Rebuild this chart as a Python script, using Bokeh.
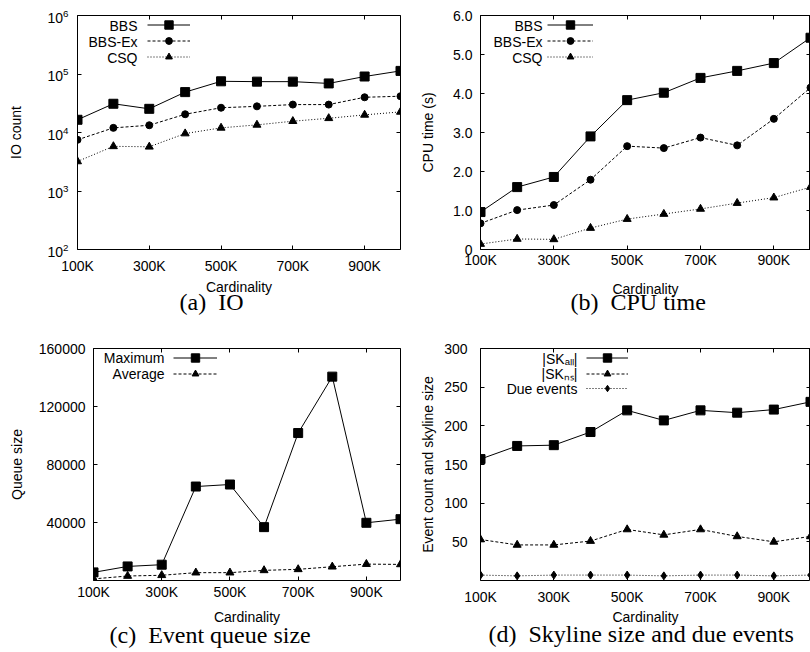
from bokeh.plotting import figure
from bokeh.layouts import column, row
from bokeh.models import (FixedTicker, LinearAxis, LogAxis, Legend, LegendItem,
                          Range1d, BasicTickFormatter, Label)
from bokeh.embed import file_html
from bokeh.resources import INLINE

# ---------------- data ----------------
cardinality = [100000, 200000, 300000, 400000, 500000,
               600000, 700000, 800000, 900000, 1000000]
x_tick_values = [100000, 300000, 500000, 700000, 900000]
x_tick_labels = ["100K", "300K", "500K", "700K", "900K"]

io_bbs = [16500, 31000, 25400, 49000, 75000, 74000, 74000, 69000, 90600, 113000]
io_bbs_ex = [7500, 12000, 13300, 20500, 26500, 28000, 30000, 30000, 40000, 41700]
io_csq = [3200, 5800, 5700, 9600, 12000, 13500, 15600, 17500, 20000, 22500]
io_ticks = [100, 1000, 10000, 100000, 1000000]

cpu_bbs = [0.96, 1.60, 1.86, 2.90, 3.83, 4.02, 4.40, 4.58, 4.78, 5.43]
cpu_bbs_ex = [0.67, 1.01, 1.14, 1.79, 2.65, 2.60, 2.87, 2.67, 3.35, 4.15]
cpu_csq = [0.14, 0.27, 0.26, 0.55, 0.78, 0.91, 1.04, 1.19, 1.33, 1.60]
cpu_ticks = [0, 1, 2, 3, 4, 5, 6]
cpu_tick_labels = ["0", "1.0", "2.0", "3.0", "4.0", "5.0", "6.0"]

queue_max = [5600, 9700, 10900, 64800, 66200, 36800, 101700, 140600, 39800, 42300]
queue_avg = [1100, 3100, 3600, 5400, 5400, 7000, 7700, 9500, 11300, 11100]
queue_ticks = [40000, 80000, 120000, 160000]

sk_all = [157, 174, 175, 192, 220, 207, 220, 217, 221, 231]
sk_ns = [53, 46, 46, 51, 66, 59, 66, 57, 50, 57]
due_events = [7, 6, 7, 7, 7, 6, 7, 7, 6, 7]
sk_ticks = [50, 100, 150, 200, 250, 300]

SANS = "Liberation Sans"
SERIF = "Liberation Serif"
FS = "14px"
NB = "\u00a0"
KEY_H = {"square": 21, "circle": 17, "triangle": 17, "diamond": 16}


def style_axis(ax, ticker, hidden=False):
    ax.ticker = ticker
    ax.axis_line_color = None
    ax.major_tick_in = 4
    ax.major_tick_out = 0
    ax.minor_tick_in = 0
    ax.minor_tick_out = 0
    ax.major_tick_line_color = "black"
    ax.major_label_text_font = SANS
    ax.major_label_text_font_size = FS
    ax.major_label_text_color = "black"
    ax.axis_label_text_font = SANS
    ax.axis_label_text_font_size = FS
    ax.axis_label_text_font_style = "normal"
    ax.axis_label_text_color = "black"
    if hidden:
        ax.major_label_overrides = {t: "" for t in ticker.ticks}
        ax.major_label_text_font_size = "1px"
        ax.major_label_standoff = 0


def make_panel(caption, y_range, y_type, borders, ylabel, yticks,
               x_std, xlab_std, y_std, ylab_std, cap_offset, cap_standoff):
    left, right, top, bottom = borders
    p = figure(width=405, height=326, x_range=Range1d(cardinality[0], cardinality[-1]),
               y_range=y_range, y_axis_type=y_type,
               min_border_left=left, min_border_right=right,
               min_border_top=top, min_border_bottom=bottom,
               title=caption, title_location="below",
               output_backend="svg", toolbar_location=None)
    p.grid.visible = False
    p.outline_line_color = "black"
    p.outline_line_width = 1
    p.background_fill_color = "white"
    p.border_fill_color = "white"

    p.title.align = "left"
    p.title.offset = cap_offset
    p.title.standoff = cap_standoff
    p.title.text_font = SERIF
    p.title.text_font_size = "24px"
    p.title.text_font_style = "normal"
    p.title.text_color = "black"

    xt = FixedTicker(ticks=x_tick_values)
    yt = FixedTicker(ticks=yticks)
    style_axis(p.xaxis[0], xt)
    p.xaxis[0].major_label_overrides = dict(zip(x_tick_values, x_tick_labels))
    p.xaxis[0].axis_label = "Cardinality"
    p.xaxis[0].major_label_standoff = x_std
    p.xaxis[0].axis_label_standoff = xlab_std

    style_axis(p.yaxis[0], yt)
    p.yaxis[0].axis_label = ylabel
    p.yaxis[0].major_label_standoff = y_std
    p.yaxis[0].axis_label_standoff = ylab_std

    top_ax = LinearAxis()
    style_axis(top_ax, FixedTicker(ticks=x_tick_values), hidden=True)
    p.add_layout(top_ax, "above")
    right_ax = LogAxis() if y_type == "log" else LinearAxis()
    style_axis(right_ax, FixedTicker(ticks=yticks), hidden=True)
    p.add_layout(right_ax, "right")
    return p


def add_series(p, ys, dash, marker, size):
    l = p.line(cardinality, ys, line_color="black", line_width=1, line_dash=dash)
    s = p.scatter(cardinality, ys, marker=marker, size=size,
                  fill_color="black", line_color="black")
    return [l, s], marker


def add_legend(p, labels, series, key_x, glyph_w, row_h, text_x, text_y):
    # gnuplot-style key: right-aligned text, then the line sample with its marker
    for i, (lab, (rends, marker)) in enumerate(zip(labels, series)):
        cy = text_y - i * row_h
        gh = KEY_H[marker]
        leg = Legend(items=[LegendItem(label="", renderers=rends)],
                     location=(key_x, round(cy - gh / 2)), glyph_width=glyph_w,
                     glyph_height=gh, label_height=0, label_width=0, label_standoff=0,
                     spacing=0, padding=0, margin=0, label_text_font_size="1px",
                     background_fill_alpha=0, border_line_color=None)
        p.add_layout(leg)
        p.add_layout(Label(x=text_x, y=cy, x_units="screen", y_units="screen",
                           text=lab, text_align="right", text_baseline="middle",
                           text_font=SANS, text_font_size=FS, text_color="black"))


# (a) IO
pa = make_panel("(a)" + NB + " IO", Range1d(100, 1000000), "log", (77, 5, 15, 77), "IO count",
                io_ticks, 8, 2, 9, 20, 102, -22)
ra = [add_series(pa, io_bbs, "solid", "square", 9),
      add_series(pa, io_bbs_ex, "3 2", "circle", 7),
      add_series(pa, io_csq, "1 2", "triangle", 8)]
add_legend(pa, ["BBS", "BBS-Ex", "CSQ"], ra, 70, 43, 16, 60, 224)

# (b) CPU time
pb = make_panel("(b)" + NB + " CPU time", Range1d(0, 6), "linear", (75, 0, 15, 77), "CPU time (s)",
                cpu_ticks, 2, 10, 8, 14, 90, -26)
pb.yaxis[0].major_label_overrides = dict(zip(cpu_ticks, cpu_tick_labels))
rb = [add_series(pb, cpu_bbs, "solid", "square", 9),
      add_series(pb, cpu_bbs_ex, "3 2", "circle", 7),
      add_series(pb, cpu_csq, "1 2", "triangle", 8)]
add_legend(pb, ["BBS", "BBS-Ex", "CSQ"], rb, 67, 46, 16, 62, 224)

# (c) Event queue size
pc = make_panel("(c)" + NB + " Event queue size", Range1d(0, 160000), "linear", (93, 5, 21, 71),
                "Queue size", queue_ticks, 3, 6, 8, 11, 16, -16)
pc.yaxis[0].formatter = BasicTickFormatter(use_scientific=False)
rc = [add_series(pc, queue_max, "solid", "square", 9),
      add_series(pc, queue_avg, "3 2", "triangle", 8)]
add_legend(pc, ["Maximum", "Average"], rc, 80, 44, 16, 71, 223)

# (d) Skyline size and due events
pd = make_panel("(d)" + NB + " Skyline size and due events", Range1d(0, 300), "linear",
                (75, 0, 22, 72), "Event count and skyline size", sk_ticks, 8, 1, 13, 5, 8, -18)
rd = [add_series(pd, sk_all, "solid", "square", 9),
      add_series(pd, sk_ns, "3 2", "triangle", 8),
      add_series(pd, due_events, "1 2", "diamond", 8)]
add_legend(pd, ["|SKₐₗₗ|", "|SKₙₛ|", "Due events"], rd, 106, 42, 15, 97, 222)

layout = column(row(pa, pb, spacing=0), row(pc, pd, spacing=0), spacing=0)
open("out.html", "w").write(file_html(layout, INLINE))
